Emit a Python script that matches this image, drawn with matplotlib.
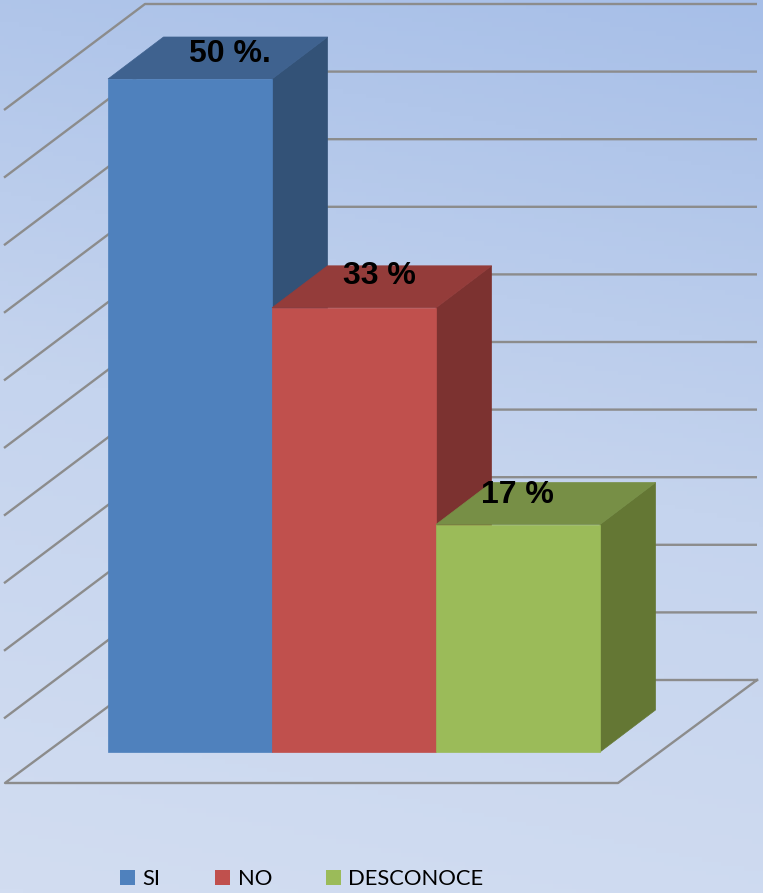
import numpy as np
import matplotlib
matplotlib.use("Agg")
import matplotlib.pyplot as plt
from matplotlib.patches import Polygon, Rectangle
from matplotlib.colors import LinearSegmentedColormap

categories = ["SI", "NO", "DESCONOCE"]
values = [50, 33, 16.9]
labels = ["50 %.", "33 %", "17 %"]
front_colors = ["#4F81BD", "#C0504D", "#9BBB59"]
top_colors = ["#3F628F", "#943C3A", "#778F46"]
side_colors = ["#335277", "#7C3230", "#647734"]
grid_levels = [5, 10, 15, 20, 25, 30, 35, 40, 45, 50]

W, H = 763, 893
PX_X, PX_Y = 164.0, 13.46         # pixels per category / per percentage point
X0_PX, Y0_PX = 108.0, 752.0       # where category edge 0 / value 0 land
BAR_DX, BAR_DY = 55.5 / PX_X, 42 / PX_Y
WALL_DX = 141 / PX_X
WALL_DY = 106 / PX_Y
FLOOR_DX, FLOOR_DY = 139 / PX_X, 103 / PX_Y
BACK_X = (145 - X0_PX) / PX_X     # left edge of the back wall
BACK_Y = 72 / PX_Y                # back-wall height of value 0
BACK_W = 612 / PX_X
FRONT_X, FRONT_Y = (5 - X0_PX) / PX_X, -31 / PX_Y   # floor front-left corner
FLOOR_W = 613 / PX_X
WALL_SCALE = 13.52 / PX_Y         # the wall scale runs a little taller than the bars
GRID = "#8C8C8C"

fig = plt.figure(figsize=(W / 100, H / 100), dpi=100)
ax = fig.add_axes([0, 0, 1, 1])
ax.set_xlim(-X0_PX / PX_X, (W - X0_PX) / PX_X)
ax.set_ylim((Y0_PX - H) / PX_Y, Y0_PX / PX_Y)
ax.axis("off")

# background gradient, darker at the top right
yy, xx = np.mgrid[0:1:200j, 0:1:200j]
t = np.clip(0.85 * yy + 0.15 * (1 - xx), 0, 1)
cmap = LinearSegmentedColormap.from_list("bg", ["#A7BFE8", "#C5D4EE", "#D2DDF1"])
ax.imshow(t, extent=[*ax.get_xlim(), *ax.get_ylim()], origin="upper",
          cmap=cmap, vmin=0, vmax=1, aspect="auto", zorder=0)

# wall grid lines
for v in grid_levels:
    y_back = BACK_Y + v * WALL_SCALE
    ax.plot([BACK_X - WALL_DX, BACK_X, BACK_X + BACK_W],
            [y_back - WALL_DY, y_back, y_back],
            color=GRID, lw=1.7, zorder=1, solid_capstyle="butt")
# floor outline
ax.plot([FRONT_X + FLOOR_DX + FLOOR_W, FRONT_X + FLOOR_DX, FRONT_X,
         FRONT_X + FLOOR_W, FRONT_X + FLOOR_W + FLOOR_DX],
        [BACK_Y, BACK_Y, FRONT_Y, FRONT_Y, BACK_Y],
        color=GRID, lw=1.7, zorder=1)

# bars
for i, v in enumerate(values):
    z = 2 + i
    ax.add_patch(Polygon([(i + 1, 0), (i + 1 + BAR_DX, BAR_DY),
                          (i + 1 + BAR_DX, v + BAR_DY), (i + 1, v)],
                         fc=side_colors[i], ec=side_colors[i], lw=0.5, zorder=z))
    ax.add_patch(Polygon([(i, v), (i + BAR_DX, v + BAR_DY),
                          (i + 1 + BAR_DX, v + BAR_DY), (i + 1, v)],
                         fc=top_colors[i], ec=top_colors[i], lw=0.5, zorder=z))
    ax.add_patch(Rectangle((i, 0), 1, v, fc=front_colors[i], ec=front_colors[i],
                           lw=0.5, zorder=z))

# value labels
label_dx = [0.744, 0.654, 0.494]
label_dy_px = [25.5, 31.5, 30]
for i, v in enumerate(values):
    ax.text(i + label_dx[i], v + label_dy_px[i] / PX_Y, labels[i], ha="center",
            va="center", fontsize=23, fontweight="bold", family="Liberation Sans",
            color="black", zorder=10)

# legend
swatch_px = [120, 215, 326]
text_px = [142, 238, 348]
LEG_Y = 877
for i, c in enumerate(categories):
    sx = (swatch_px[i] - X0_PX) / PX_X
    sy = (Y0_PX - LEG_Y) / PX_Y
    ax.add_patch(Rectangle((sx, sy - 7.5 / PX_Y), 15 / PX_X, 15 / PX_Y,
                           fc=front_colors[i], ec="none", zorder=10))
    ax.text((text_px[i] - X0_PX) / PX_X, sy, c, ha="left", va="center_baseline",
            fontsize=15.8, family="Lato", color="black", zorder=10)

fig.savefig("out.png", dpi=100)
